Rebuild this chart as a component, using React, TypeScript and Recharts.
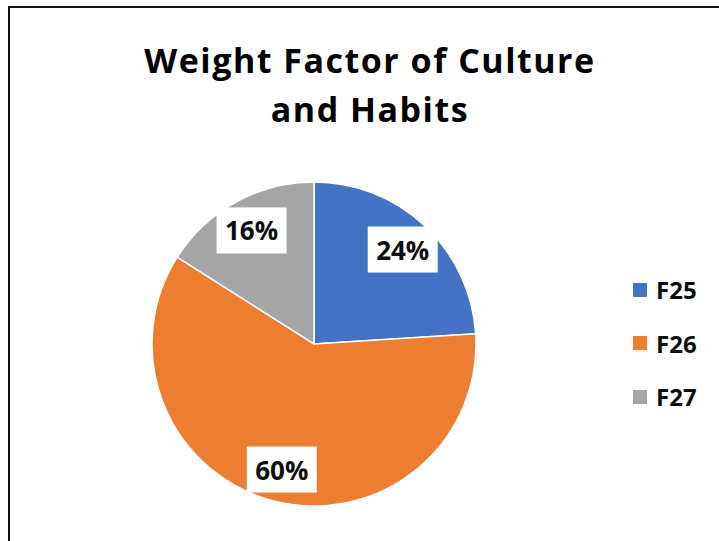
import { PieChart, Pie, Cell, Legend } from "recharts"

const categories = ["F25", "F26", "F27"]
const shares = [24, 60, 16]
const colors = ["#4472C4", "#ED7D31", "#A5A5A5"]
const titleLines = ["Weight Factor of Culture", "and Habits"]

const FONT = "'Open Sans', 'Noto Sans', sans-serif"
const RAD = Math.PI / 180

const data = categories.map((name, i) => ({ name, value: shares[i] }))

// white box with the percentage, placed at ~80% of the radius
const renderLabel = (props: any) => {
  const { cx, cy, midAngle, outerRadius, value } = props
  const r = outerRadius * 0.8
  const x = cx + r * Math.cos(-midAngle * RAD)
  const y = cy + r * Math.sin(-midAngle * RAD)
  return (
    <g>
      <rect x={x - 35} y={y - 23} width={70} height={46} fill="#ffffff" />
      <text
        x={x}
        y={y}
        textAnchor="middle"
        dominantBaseline="central"
        fontFamily={FONT}
        fontWeight={700}
        fontSize={26}
        fill="#0d0d0d"
      >
        {`${value}%`}
      </text>
    </g>
  )
}

const LegendContent = ({ payload }: any) => (
  <div style={{ fontFamily: FONT }}>
    {(payload || []).map((entry: any) => (
      <div key={entry.value} style={{ display: "flex", alignItems: "center", height: 53.5 }}>
        <div style={{ width: 14, height: 14, background: entry.color, marginRight: 9 }} />
        <span style={{ fontSize: 24, fontWeight: 700, color: "#0d0d0d" }}>{entry.value}</span>
      </div>
    ))}
  </div>
)

export default function App() {
  return (
    <div
      style={{
        position: "absolute",
        left: 0,
        top: 0,
        width: 719,
        height: 541,
        overflow: "hidden",
        background: "#ffffff",
      }}
    >
      <div
        style={{
          position: "absolute",
          left: 8,
          top: 6,
          width: 720,
          height: 600,
          borderTop: "2px solid #111",
          borderLeft: "2px solid #111",
        }}
      />
      <svg style={{ position: "absolute", left: 0, top: 0 }} width={719} height={140}>
        {titleLines.map((line, i) => (
          <text
            key={line}
            x={370}
            y={73 + i * 49}
            textAnchor="middle"
            fontFamily={FONT}
            fontWeight={700}
            fontSize={34}
            letterSpacing={1.5}
            fill="#000"
          >
            {line}
          </text>
        ))}
      </svg>
      <div style={{ position: "absolute", left: 0, top: 0 }}>
        <PieChart width={719} height={541} margin={{ top: 0, right: 0, bottom: 0, left: 0 }}>
          <Pie
            data={data}
            dataKey="value"
            nameKey="name"
            cx={314}
            cy={344}
            outerRadius={162}
            startAngle={90}
            endAngle={-270}
            stroke="#ffffff"
            strokeWidth={1.5}
            label={renderLabel}
            labelLine={false}
            isAnimationActive={false}
          >
            {data.map((d, i) => (
              <Cell key={d.name} fill={colors[i]} />
            ))}
          </Pie>
          <Legend
            layout="vertical"
            content={<LegendContent />}
            wrapperStyle={{ left: 633, top: 263, width: 80 }}
          />
        </PieChart>
      </div>
    </div>
  )
}
